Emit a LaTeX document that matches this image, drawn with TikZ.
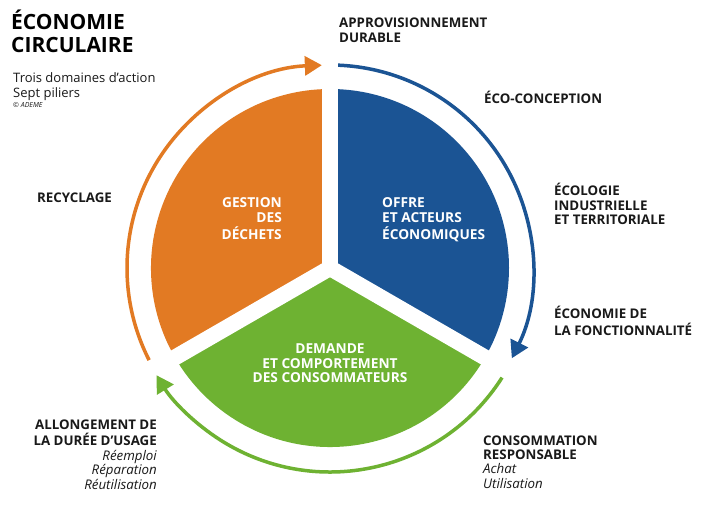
\documentclass[tikz,border=0pt]{standalone}
\usepackage{fontspec}
\setmainfont{Open Sans}
\usetikzlibrary{arrows.meta}
\definecolor{ademeorange}{RGB}{226,122,35}
\definecolor{ademeblue}{RGB}{27,84,148}
\definecolor{ademegreen}{RGB}{110,178,50}
\definecolor{labelink}{RGB}{25,25,25}
\begin{document}
\begin{tikzpicture}[x=1pt,y=1pt,
  lbl/.style={inner sep=0pt, font=\fontsize{13.3}{14.3}\selectfont\bfseries, text=labelink},
  sect/.style={inner sep=0pt, font=\fontsize{13.7}{14.5}\selectfont\bfseries, text=white},
  ring/.style={line width=3.5pt, -{Triangle[length=17pt,width=19pt]}},
  gapstrip/.style={white, line width=16pt}
]
\useasboundingbox (0,0) rectangle (712,509);
\fill[white] (0,0) rectangle (712,509);
\coordinate (O) at (330,241);
% sectors
\fill[ademeblue] (O) -- ++(90:179pt) arc[start angle=90,end angle=-30,radius=179pt] -- cycle;
\fill[ademegreen] (O) -- ++(-30:179pt) arc[start angle=-30,end angle=-150,radius=179pt] -- cycle;
\fill[ademeorange] (O) -- ++(210:179pt) arc[start angle=210,end angle=90,radius=179pt] -- cycle;
\draw[gapstrip] (O) -- ++(90:190pt);
\draw[gapstrip] (O) -- ++(210:190pt);
\draw[gapstrip] (O) -- ++(-30:190pt);
% ring arrows
\draw[ring, ademeorange] (O) ++(207:203pt) arc[start angle=207,end angle=92.3,radius=203pt];
\draw[ring, ademeblue] (O) ++(87.7:203pt) arc[start angle=87.7,end angle=-26.4,radius=203pt];
\draw[ring, ademegreen] (O) ++(-32.5:204pt) arc[start angle=-32.5,end angle=-148.3,radius=204pt];
% title
\node[anchor=base west, inner sep=0pt, font=\fontsize{21}{23}\selectfont\bfseries, text=black] (title) at (11,479)
  {\begin{tabular}[t]{@{}l@{}}ÉCONOMIE\\CIRCULAIRE\end{tabular}};
\node[anchor=base west, inner sep=0pt, font=\fontsize{13}{15}\selectfont, text=labelink] (subtitle) at (13,426)
  {\begin{tabular}[t]{@{}l@{}}Trois domaines d’action\\Sept piliers\end{tabular}};
\node[anchor=base west, inner sep=0pt, font=\fontsize{7}{8}\selectfont\itshape, text=labelink] (copy) at (13,401) {© ADEME};
% sector texts
\node[sect, anchor=base east] (gestion) at (282,301)
  {\begin{tabular}[t]{@{}r@{}}GESTION\\DES\\DÉCHETS\end{tabular}};
\node[sect, anchor=base west] (offre) at (382,301)
  {\begin{tabular}[t]{@{}l@{}}OFFRE\\ET ACTEURS\\ÉCONOMIQUES\end{tabular}};
\node[sect, anchor=base] (demande) at (330,155)
  {\begin{tabular}[t]{@{}c@{}}DEMANDE\\ET COMPORTEMENT\\DES CONSOMMATEURS\end{tabular}};
% pillar labels
\node[lbl, anchor=base west] (appro) at (339,481)
  {\begin{tabular}[t]{@{}l@{}}APPROVISIONNEMENT\\DURABLE\end{tabular}};
\node[lbl, anchor=base west] (eco) at (484,405) {ÉCO-CONCEPTION};
\node[lbl, anchor=base west] (ecol) at (554,313)
  {\begin{tabular}[t]{@{}l@{}}ÉCOLOGIE\\INDUSTRIELLE\\ET TERRITORIALE\end{tabular}};
\node[lbl, anchor=base west] (fonc) at (554,190)
  {\begin{tabular}[t]{@{}l@{}}ÉCONOMIE DE\\LA FONCTIONNALITÉ\end{tabular}};
\node[lbl, anchor=base west] (conso) at (483,64)
  {\begin{tabular}[t]{@{}l@{}}CONSOMMATION\\RESPONSABLE\\{\mdseries\itshape Achat}\\{\mdseries\itshape Utilisation}\end{tabular}};
\node[lbl, anchor=base east] (allong) at (157,80)
  {\begin{tabular}[t]{@{}r@{}}ALLONGEMENT DE\\LA DURÉE D’USAGE\\{\mdseries\itshape Réemploi}\\{\mdseries\itshape Réparation}\\{\mdseries\itshape Réutilisation}\end{tabular}};
\node[lbl, anchor=base west] (recy) at (37,306) {RECYCLAGE};
\end{tikzpicture}
\end{document}
